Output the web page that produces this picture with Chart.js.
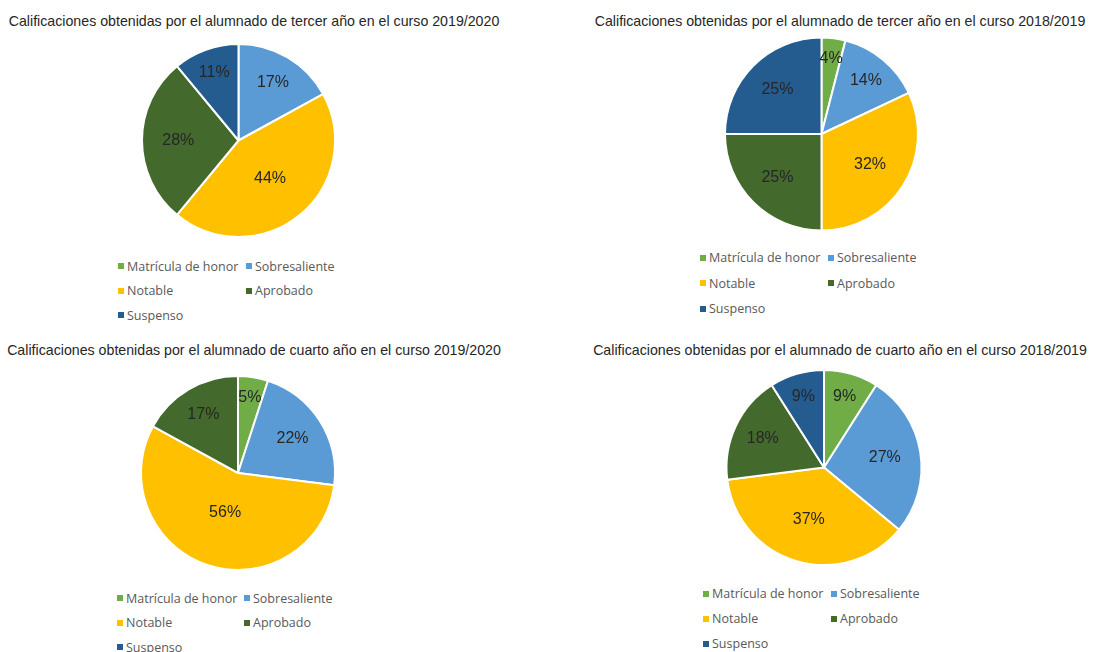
<!DOCTYPE html>
<html>
<head>
<meta charset="utf-8">
<title>Calificaciones</title>
<script src="https://cdn.jsdelivr.net/npm/chart.js@4/dist/chart.umd.min.js"></script>
<style>
body { margin: 0; background: #fff; width: 1098px; height: 652px; overflow: hidden; position: relative; }
canvas { position: absolute; }
.titulo { position: absolute; width: 508px; text-align: center; white-space: nowrap; font-family: 'Liberation Sans', Arial, sans-serif; font-size: 14.2px; line-height: 17px; color: #262626; }
.leyenda { position: absolute; display: grid; font-family: 'Open Sans', sans-serif; font-size: 12.5px; color: #595959; }
.leyenda div { display: flex; align-items: center; white-space: nowrap; }
.leyenda span { display: inline-block; width: 6px; height: 6px; margin-right: 3px; }
</style>
</head>
<body>
<div class="titulo" id="tit1" style="left:0px;top:12.5px"></div>
<div class="titulo" id="tit2" style="left:586px;top:12.5px"></div>
<div class="titulo" id="tit3" style="left:0px;top:341.5px"></div>
<div class="titulo" id="tit4" style="left:586px;top:341.5px"></div>
<canvas id="graf1" width="508" height="241" style="left:0px;top:0px"></canvas>
<canvas id="graf2" width="508" height="235" style="left:586px;top:0px"></canvas>
<canvas id="graf3" width="508" height="244" style="left:0px;top:330px"></canvas>
<canvas id="graf4" width="508" height="240" style="left:586px;top:330px"></canvas>
<div class="leyenda" id="ley1" style="left:118px;top:254px;grid-template-columns:128px auto;grid-auto-rows:24.5px"></div>
<div class="leyenda" id="ley2" style="left:700px;top:245px;grid-template-columns:128px auto;grid-auto-rows:25.5px"></div>
<div class="leyenda" id="ley3" style="left:117px;top:586px;grid-template-columns:127px auto;grid-auto-rows:24.5px"></div>
<div class="leyenda" id="ley4" style="left:703px;top:581px;grid-template-columns:128px auto;grid-auto-rows:25px"></div>
<script>
// categorias (mismo orden en los cuatro graficos)
const categorias = ['Matrícula de honor', 'Sobresaliente', 'Notable', 'Aprobado', 'Suspenso']
const colores = ['#70ad47', '#5b9bd5', '#ffc000', '#43692c', '#245c90']

const tercero1920 = [0, 17, 44, 28, 11]
const tercero1819 = [4, 14, 32, 25, 25]
const cuarto1920 = [5, 22, 56, 17, 0]
const cuarto1819 = [9, 27, 37, 18, 9]

const titulos = [
    'Calificaciones obtenidas por el alumnado de tercer año en el curso 2019/2020',
    'Calificaciones obtenidas por el alumnado de tercer año en el curso 2018/2019',
    'Calificaciones obtenidas por el alumnado de cuarto año en el curso 2019/2020',
    'Calificaciones obtenidas por el alumnado de cuarto año en el curso 2018/2019'
]

//plugin para escribir el porcentaje dentro de cada porcion
const etiquetasPct = {
    id: 'etiquetasPct',
    afterDatasetsDraw(chart){
        const ctx = chart.ctx
        const meta = chart.getDatasetMeta(0)
        const datos = chart.data.datasets[0].data
        const total = datos.reduce((a, b) => a + b, 0)
        ctx.save()
        ctx.font = '16px "Liberation Sans", Arial, sans-serif'
        ctx.fillStyle = '#262626'
        ctx.textAlign = 'center'
        ctx.textBaseline = 'middle'
        meta.data.forEach(function(arco, i){
            if(datos[i] === 0) return
            const frac = datos[i] / total
            // las porciones pequeñas llevan la etiqueta mas hacia fuera
            const f = Math.max(0.43, 0.82 - 0.7 * frac)
            const ang = (arco.startAngle + arco.endAngle) / 2
            const r = arco.outerRadius * f
            ctx.fillText(datos[i] + '%', arco.x + Math.cos(ang) * r, arco.y + Math.sin(ang) * r)
        })
        ctx.restore()
    }
}

function crearGrafico(id, valores, pad){
    return new Chart(document.querySelector('canvas#' + id), {
        type: 'pie',
        data: {
            labels: categorias,
            datasets: [{
                data: valores,
                backgroundColor: colores,
                borderColor: '#ffffff',
                borderWidth: 2
            }]
        },
        options: {
            responsive: false,
            animation: false,
            layout: { padding: pad },
            plugins: {
                legend: { display: false },
                tooltip: { enabled: false },
                title: { display: false }
            }
        },
        plugins: [etiquetasPct]
    })
}

//leyenda en dos columnas como la de Excel
function crearLeyenda(id){
    const caja = document.querySelector('div#' + id)
    categorias.forEach(function(nombre, i){
        const item = document.createElement('div')
        const cuadro = document.createElement('span')
        cuadro.style.background = colores[i]
        item.appendChild(cuadro)
        item.appendChild(document.createTextNode(nombre))
        caja.appendChild(item)
    })
}

titulos.forEach(function(t, i){
    document.querySelector('div#tit' + (i + 1)).textContent = t
})

crearGrafico('graf1', tercero1920, {left: 141, right: 172, top: 43, bottom: 3})
crearGrafico('graf2', tercero1819, {left: 138, right: 175, top: 36.5, bottom: 3.5})
crearGrafico('graf3', cuarto1920, {left: 140, right: 172, top: 45, bottom: 3})
crearGrafico('graf4', cuarto1819, {left: 139.5, right: 171.5, top: 39, bottom: 4})

crearLeyenda('ley1')
crearLeyenda('ley2')
crearLeyenda('ley3')
crearLeyenda('ley4')
</script>
</body>
</html>
